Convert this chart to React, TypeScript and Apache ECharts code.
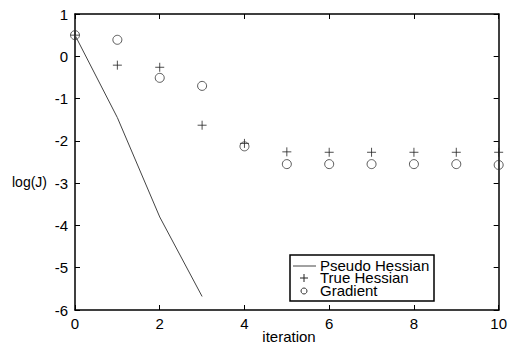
import React, { useEffect, useRef } from "react";
import * as echarts from "echarts";

const iterations = [0, 1, 2, 3, 4, 5, 6, 7, 8, 9, 10];
const pseudoHessian = [0.5, -1.45, -3.8, -5.68];
const trueHessian = [0.5, -0.21, -0.26, -1.63, -2.06, -2.26, -2.27, -2.27, -2.27, -2.27, -2.27];
const gradient = [0.5, 0.39, -0.51, -0.7, -2.13, -2.55, -2.55, -2.55, -2.55, -2.55, -2.57];
const seriesNames = ["Pseudo Hessian", "True Hessian", "Gradient"];
const xTicks = { min: 0, max: 10, interval: 2 };
const yTicks = { min: -6, max: 1, interval: 1 };

const FONT = "'Liberation Sans', Arial, Helvetica, sans-serif";
const PLUS = "path://M5,0L5,10M0,5L10,5";

export default function App() {
  const ref = useRef<HTMLDivElement>(null);
  useEffect(() => {
    if (!ref.current) return;
    const chart = echarts.init(ref.current, undefined, { renderer: "svg" });
    const axisLine = { show: true, onZero: false, lineStyle: { color: "#000", width: 1.5 } };
    const axisTick = { show: true, inside: true, length: 5, lineStyle: { color: "#000", width: 1 } };
    const label = { color: "#000", fontSize: 15, fontFamily: FONT };
    chart.setOption({
      animation: false,
      backgroundColor: "#fff",
      grid: { left: 75, right: 7, top: 14, bottom: 34, containLabel: false },
      xAxis: [
        {
          type: "value",
          position: "bottom",
          ...xTicks,
          axisLine,
          axisTick,
          axisLabel: { ...label, margin: 6 },
          splitLine: { show: false },
        },
        {
          type: "value",
          position: "top",
          ...xTicks,
          axisLine,
          axisTick,
          axisLabel: { show: false },
          splitLine: { show: false },
        },
      ],
      yAxis: [
        {
          type: "value",
          position: "left",
          ...yTicks,
          axisLine,
          axisTick,
          axisLabel: { ...label, margin: 7 },
          splitLine: { show: false },
        },
        {
          type: "value",
          position: "right",
          ...yTicks,
          axisLine,
          axisTick,
          axisLabel: { show: false },
          splitLine: { show: false },
        },
      ],
      series: [
        {
          name: seriesNames[0],
          type: "line",
          data: pseudoHessian.map((v, i) => [iterations[i], v]),
          symbol: "none",
          lineStyle: { color: "#444", width: 1 },
        },
        {
          name: seriesNames[1],
          type: "scatter",
          data: trueHessian.map((v, i) => [iterations[i], v]),
          symbol: PLUS,
          symbolSize: 9,
          itemStyle: { color: "none", borderColor: "#222", borderWidth: 1 },
        },
        {
          name: seriesNames[2],
          type: "scatter",
          data: gradient.map((v, i) => [iterations[i], v]),
          symbol: "circle",
          symbolSize: 9,
          itemStyle: { color: "none", borderColor: "#333", borderWidth: 1 },
        },
      ],
      graphic: [
        {
          type: "text",
          left: 12,
          top: 175,
          style: { text: "log(J)", font: `14px ${FONT}`, fill: "#000" },
        },
        {
          type: "text",
          x: 289,
          y: 336,
          style: { text: "iteration", font: `15px ${FONT}`, fill: "#000", align: "center", verticalAlign: "middle" },
        },
        {
          type: "rect",
          shape: { x: 290, y: 255, width: 144, height: 46 },
          style: { fill: "#fff", stroke: "#000", lineWidth: 1.5 },
          z: 10,
        },
        {
          type: "line",
          shape: { x1: 293, y1: 266, x2: 316, y2: 266 },
          style: { stroke: "#444", lineWidth: 1 },
          z: 11,
        },
        {
          type: "line",
          shape: { x1: 300, y1: 278, x2: 308, y2: 278 },
          style: { stroke: "#222", lineWidth: 1 },
          z: 11,
        },
        {
          type: "line",
          shape: { x1: 304, y1: 274, x2: 304, y2: 282 },
          style: { stroke: "#222", lineWidth: 1 },
          z: 11,
        },
        {
          type: "circle",
          shape: { cx: 304, cy: 291, r: 3 },
          style: { fill: "none", stroke: "#333", lineWidth: 1 },
          z: 11,
        },
        ...seriesNames.map((n, i) => ({
          type: "text",
          x: 320,
          y: 265 + i * 12.5,
          z: 11,
          style: { text: n, font: `15px ${FONT}`, lineHeight: 12, fill: "#000", verticalAlign: "middle" },
        })),
      ],
    });
    return () => chart.dispose();
  }, []);
  return <div ref={ref} style={{ width: 510, height: 344, position: "absolute", left: 0, top: 0 }} />;
}
